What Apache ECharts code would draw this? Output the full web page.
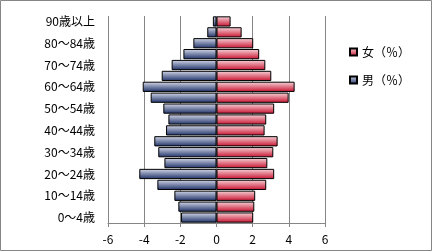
<!DOCTYPE html>
<html><head><meta charset="utf-8">
<script src="https://cdn.jsdelivr.net/npm/echarts@6/dist/echarts.min.js"></script>
<style>html,body{margin:0;padding:0;background:#fff}#c{width:433px;height:252px}</style>
</head><body><div id="c"></div>
<script>
const categories = ["0～4歳","5～9歳","10～14歳","15～19歳","20～24歳","25～29歳","30～34歳","35～39歳","40～44歳","45～49歳","50～54歳","55～59歳","60～64歳","65～69歳","70～74歳","75～79歳","80～84歳","85～89歳","90歳以上"];
const male = [-1.96,-2.11,-2.33,-3.27,-4.27,-2.88,-3.22,-3.44,-2.79,-2.66,-2.94,-3.64,-4.08,-3.03,-2.48,-1.83,-1.28,-0.51,-0.2];
const female = [2.03,2.09,2.14,2.75,3.19,2.81,3.14,3.38,2.66,2.75,3.19,3.99,4.32,3.03,2.70,2.36,2.03,1.39,0.78];
const xTicks = {min:-6, max:6, step:2};
const chart = echarts.init(document.getElementById('c'));
const font = '"Noto Sans CJK JP","Noto Sans",sans-serif';
const grad = (a,b)=>new echarts.graphic.LinearGradient(0,0,0,1,[{offset:0,color:a},{offset:1,color:b}]);
chart.setOption({
  animation:false,
  textStyle:{fontFamily:font},
  graphic:[{type:'rect',shape:{x:0.5,y:0.5,width:431,height:250},style:{fill:'none',stroke:'#868686',lineWidth:1},z:-1}],
  grid:{left:108,right:108,top:16,bottom:29},
  legend:{orient:'vertical',left:344,top:41,itemWidth:7,itemHeight:7,itemGap:16,icon:'rect',
    textStyle:{fontSize:12,color:'#000',fontFamily:font},
    data:['女（％）','男（％）']},
  xAxis:{type:'value',min:xTicks.min,max:xTicks.max,interval:xTicks.step,
    axisLine:{show:true,lineStyle:{color:'#868686'}},
    axisTick:{show:true,length:4,lineStyle:{color:'#868686'}},
    splitLine:{show:true,lineStyle:{color:'#868686'}},
    axisLabel:{fontSize:12,color:'#000',margin:10}},
  yAxis:{type:'category',data:categories,
    axisLine:{show:false},axisTick:{show:false},
    axisLabel:{interval:1,fontSize:12,color:'#000',margin:13}},
  series:[
    {name:'男（％）',type:'bar',data:male,barGap:'-100%',barCategoryGap:'6%',
      itemStyle:{color:grad('#d6daea','#1c2f66'),borderColor:'#000',borderWidth:1}},
    {name:'女（％）',type:'bar',data:female,barGap:'-100%',barCategoryGap:'6%',
      itemStyle:{color:grad('#f7d7db','#c8102e'),borderColor:'#000',borderWidth:1}}
  ]
});
</script></body></html>
